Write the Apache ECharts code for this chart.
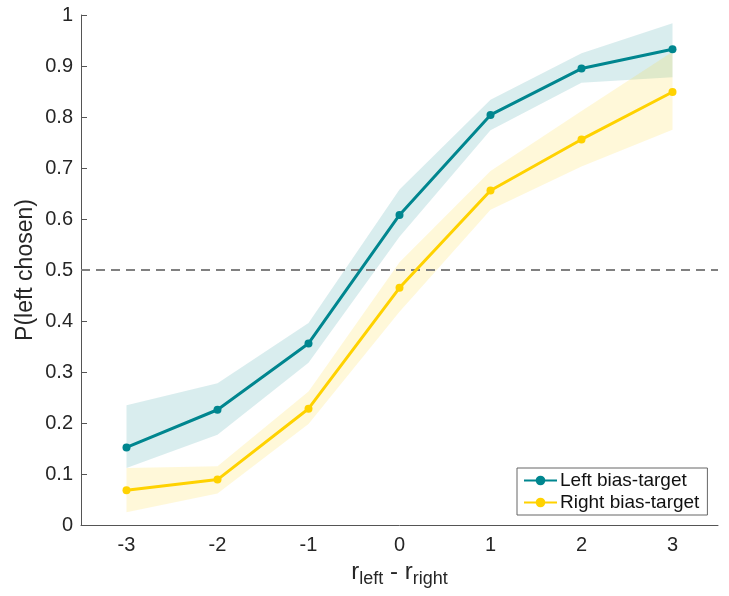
<!DOCTYPE html>
<html><head><meta charset="utf-8">
<script src="https://cdn.jsdelivr.net/npm/echarts@6/dist/echarts.min.js"></script>
<style>html,body{margin:0;padding:0;background:#fff}#c{width:729px;height:596px}</style>
</head><body><div id="c"></div>
<script>
var categories = ['-3','-2','-1','0','1','2','3'];
var teal = [0.152, 0.226, 0.356, 0.608, 0.804, 0.895, 0.933];
var tealLo = [0.112, 0.177, 0.318, 0.565, 0.774, 0.867, 0.878];
var tealHi = [0.235, 0.278, 0.396, 0.658, 0.834, 0.925, 0.984];
var yellow = [0.068, 0.089, 0.228, 0.465, 0.656, 0.756, 0.849];
var yellowLo = [0.025, 0.062, 0.198, 0.418, 0.618, 0.703, 0.775];
var yellowHi = [0.112, 0.115, 0.262, 0.515, 0.694, 0.812, 0.928];

var TEAL = '#00868f', YEL = '#ffd200';
function diff(a,b){return a.map(function(v,i){return +(v-b[i]).toFixed(4);});}
var font = '"Liberation Sans", Arial, Helvetica, sans-serif';
var chart = echarts.init(document.getElementById('c'));
chart.setOption({
  animation:false,
  textStyle:{fontFamily:font},
  grid:{left:81,right:11,top:15,bottom:71,outerBoundsMode:'none',containLabel:false},
  legend:{
    data:['Left bias-target','Right bias-target'],
    orient:'vertical', left:517, top:468,
    itemWidth:33, itemHeight:12, itemGap:3,
    padding:[3,8,3,6],
    borderColor:'#666', borderWidth:1, backgroundColor:'#fff',
    textStyle:{fontSize:19,color:'#111',fontFamily:font,padding:[0,0,0,-2]}
  },
  xAxis:{
    type:'category', data:categories, boundaryGap:true,
    axisLine:{lineStyle:{color:'#555',width:1}},
    axisTick:{inside:true,length:6,alignWithLabel:true,lineStyle:{color:'#555'}},
    axisLabel:{fontSize:20,color:'#262626',margin:10},
    name:'{a|r}{s|left}{a| - r}{s|right}',
    nameLocation:'middle', nameGap:31,
    nameTextStyle:{rich:{
      a:{fontSize:24,color:'#262626',fontFamily:font},
      s:{fontSize:18,color:'#262626',fontFamily:font,padding:[14,0,0,0]}
    }}
  },
  yAxis:{
    type:'value', min:0, max:1, interval:0.1,
    axisLine:{show:true,lineStyle:{color:'#555',width:1}},
    axisTick:{show:true,inside:true,length:6,lineStyle:{color:'#555'}},
    splitLine:{show:false},
    axisLabel:{fontSize:20,color:'#262626',margin:8,formatter:function(v){return String(+v.toFixed(1));}},
    name:'P(left chosen)', nameLocation:'middle', nameGap:44, nameMoveOverlap:false,
    nameTextStyle:{fontSize:23,color:'#262626'}
  },
  series:[
    {name:'tl',type:'line',stack:'t',data:tealLo,symbol:'none',lineStyle:{opacity:0},silent:true,z:1},
    {name:'tb',type:'line',stack:'t',data:diff(tealHi,tealLo),symbol:'none',lineStyle:{opacity:0},
     areaStyle:{color:TEAL,opacity:0.15},silent:true,z:1},
    {name:'yl',type:'line',stack:'y',data:yellowLo,symbol:'none',lineStyle:{opacity:0},silent:true,z:2},
    {name:'yb',type:'line',stack:'y',data:diff(yellowHi,yellowLo),symbol:'none',lineStyle:{opacity:0},
     areaStyle:{color:YEL,opacity:0.15},silent:true,z:2},
    {name:'Left bias-target',type:'line',data:teal,symbol:'circle',symbolSize:8,
     itemStyle:{color:TEAL},lineStyle:{color:TEAL,width:3},z:5,
     markLine:{silent:true,symbol:'none',label:{show:false},
       lineStyle:{color:'#808080',type:[9,6],width:2},data:[{yAxis:0.5}]}},
    {name:'Right bias-target',type:'line',data:yellow,symbol:'circle',symbolSize:8,
     itemStyle:{color:YEL},lineStyle:{color:YEL,width:3},z:5}
  ]
});
</script></body></html>
